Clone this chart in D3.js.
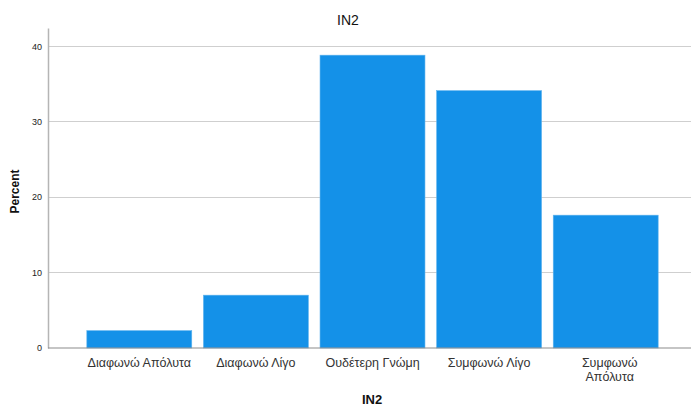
<!DOCTYPE html>
<html><head><meta charset="utf-8">
<script src="https://cdn.jsdelivr.net/npm/d3@7"></script>
<style>body{margin:0;background:#fff}svg{display:block;font-family:"Liberation Sans",Arial,sans-serif}</style>
</head><body><svg id="c" width="692" height="407"></svg>
<script>
const categories = ["Διαφωνώ Απόλυτα","Διαφωνώ Λίγο","Ουδέτερη Γνώμη","Συμφωνώ Λίγο","Συμφωνώ Απόλυτα"];
const percentValues = [2.3, 7.0, 38.8, 34.1, 17.6];
const yTicks = [0, 10, 20, 30, 40];
const title = "IN2";
const xTitle = "IN2";
const yTitle = "Percent";

(function(){
const svg = d3.select("#c");
const mLeft = 48, mRight = 691, mTop = 28, mBottom = 348;
const x = d3.scaleBand().domain(categories).range([81, 664]).paddingInner(0.1).paddingOuter(0.05);
const y = d3.scaleLinear().domain([0, 42.4]).range([mBottom, mTop]);

svg.append("g").selectAll("line").data(yTicks.filter(d=>d>0)).join("line")
  .attr("x1", mLeft).attr("x2", mRight).attr("y1", d=>y(d)).attr("y2", d=>y(d))
  .attr("stroke", "#cfcfcf").attr("stroke-width", 1).attr("shape-rendering","crispEdges");

svg.append("g").selectAll("rect").data(categories).join("rect")
  .attr("x", d=>x(d)).attr("width", x.bandwidth())
  .attr("y", (d,i)=>y(percentValues[i])).attr("height", (d,i)=>mBottom - y(percentValues[i]))
  .attr("fill", "#1491e8").attr("stroke","#5fb3ef").attr("stroke-width",0.6);

const ya = svg.append("g").attr("transform", `translate(${mLeft},0)`)
  .call(d3.axisLeft(y).tickValues(yTicks).tickSize(0).tickPadding(6));
ya.select(".domain").attr("stroke", "#b5b5b5").attr("stroke-width",1.5);
ya.selectAll("text").attr("font-size", 9).attr("fill", "#222").attr("font-family","Liberation Sans, Arial, sans-serif");

const xa = svg.append("g").attr("transform", `translate(0,${mBottom})`)
  .call(d3.axisBottom(x).tickSize(0).tickPadding(10));
xa.select(".domain").remove();
svg.append("line").attr("x1", mLeft).attr("x2", mRight).attr("y1", mBottom).attr("y2", mBottom)
  .attr("stroke", "#8c8c8c").attr("stroke-width", 1.2);
xa.selectAll("text").attr("font-size", 12.5).attr("fill", "#333").attr("font-family","Liberation Sans, Arial, sans-serif")
  .each(function(d){
    const t = d3.select(this);
    if (d === "Συμφωνώ Απόλυτα") {
      const parts = d.split(" ");
      t.text(null);
      t.append("tspan").attr("x",4).attr("dy","0.71em").text(parts[0]);
      t.append("tspan").attr("x",4).attr("dy","1.1em").text(parts[1]);
      t.attr("dy", null);
    }
  });

svg.append("text").attr("x", 348).attr("y", 25).attr("text-anchor","middle")
  .attr("font-size", 14).attr("fill","#111").text(title);
svg.append("text").attr("x", 372).attr("y", 404).attr("text-anchor","middle")
  .attr("font-size", 13).attr("font-weight","bold").attr("fill","#111").text(xTitle);
svg.append("text").attr("transform","translate(19,191.5) rotate(-90)").attr("text-anchor","middle")
  .attr("font-size", 12).attr("font-weight","bold").attr("fill","#111").text(yTitle);
})();
</script></body></html>
